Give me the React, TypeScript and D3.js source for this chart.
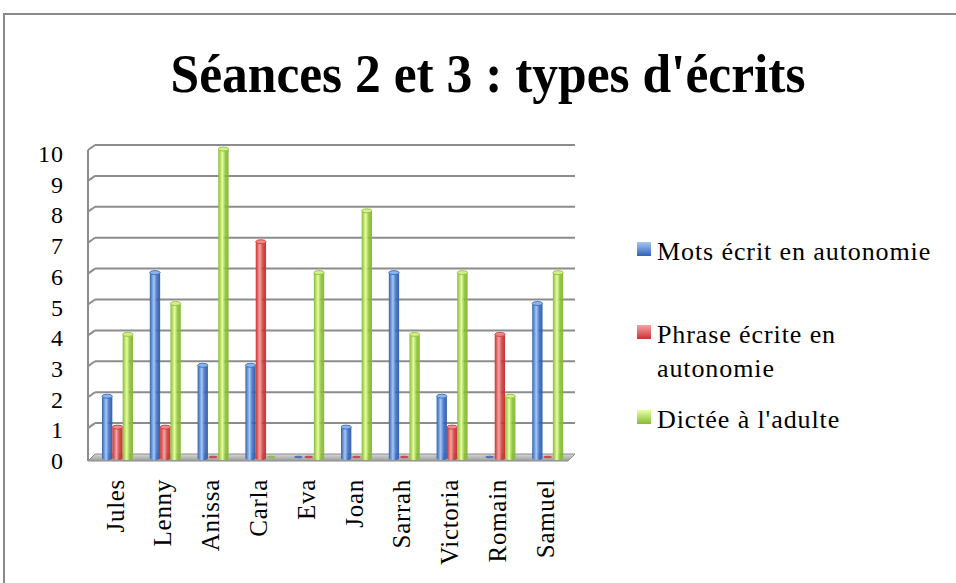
import React from 'react';
import * as d3 from 'd3';

const names = ['Jules', 'Lenny', 'Anissa', 'Carla', 'Eva', 'Joan', 'Sarrah', 'Victoria', 'Romain', 'Samuel'];
const seriesNames = ['Mots écrit en autonomie', 'Phrase écrite en autonomie', "Dictée à l'adulte"];
const motsEcrits = [2, 6, 3, 3, 0, 1, 6, 2, 0, 5];
const phraseEcrite = [1, 1, 0, 7, 0, 0, 0, 1, 4, 0];
const dicteeAdulte = [4, 5, 10, 0, 6, 8, 4, 6, 2, 6];
const yTicks = [0, 1, 2, 3, 4, 5, 6, 7, 8, 9, 10];

const colors = [
  { edge: '#2f63b8', mid: '#a6c8f6', cap: '#8cb6ee' },
  { edge: '#c83232', mid: '#f7a4a4', cap: '#f08a8a' },
  { edge: '#86bb34', mid: '#e8ff9e', cap: '#d4f088' },
];

const W = 956;
const H = 583;
const FONT = '"Liberation Serif", "DejaVu Serif", serif';

export default function App() {
  const values = [motsEcrits, phraseEcrite, dicteeAdulte];
  // back wall and front plane of the pseudo-3D box
  const xBack = d3.scaleBand<string>().domain(names).range([95, 573]);
  const xInner = d3.scaleBand<number>().domain([0, 1, 2]).range([7, 38]);
  const yBack = d3.scaleLinear().domain([0, 10]).range([454, 145]);
  const yBar = d3.scaleLinear().domain([0, 10]).range([458, 149]);
  const yLabel = d3.scaleLinear().domain([0, 10]).range([461, 154]);
  const dx = 7;
  const dy = 5;
  const x0 = 95;
  const x1 = 575;

  const legendY = [251, 334, 419];

  return (
    <svg width={W} height={H} style={{ position: 'absolute', left: 0, top: 0, background: '#fff' }}>
      <defs>
        {colors.map((c, i) => (
          <linearGradient key={i} id={`cyl${i}`} x1="0" x2="1" y1="0" y2="0">
            <stop offset="0" stopColor={c.edge} />
            <stop offset="0.4" stopColor={c.mid} />
            <stop offset="0.7" stopColor={c.edge} stopOpacity={0.85} />
            <stop offset="1" stopColor={c.edge} />
          </linearGradient>
        ))}
        {colors.map((c, i) => (
          <linearGradient key={`l${i}`} id={`leg${i}`} x1="0" x2="0" y1="0" y2="1">
            <stop offset="0" stopColor={c.mid} />
            <stop offset="1" stopColor={c.edge} />
          </linearGradient>
        ))}
        <linearGradient id="floor" x1="0" x2="0" y1="0" y2="1">
          <stop offset="0" stopColor="#d8d8d8" />
          <stop offset="1" stopColor="#9a9a9a" />
        </linearGradient>
      </defs>

      {/* outer frame */}
      <rect x={4} y={14} width={W + 10} height={H + 10} fill="#fff" stroke="#8a8a8a" strokeWidth={2} />

      <text
        x={488}
        y={92}
        textAnchor="middle"
        fontFamily={FONT}
        fontWeight="bold"
        fontSize={55}
        textLength={635}
        lengthAdjust="spacingAndGlyphs"
        fill="#000"
      >
        Séances 2 et 3 : types d'écrits
      </text>

      {/* floor */}
      <path
        d={`M${x0},${yBack(0)} L${x1},${yBack(0)} L${x1 - dx},${yBack(0) + dy + 2} L${x0 - dx},${yBack(0) + dy + 2} Z`}
        fill="url(#floor)"
        stroke="#8c8c8c"
        strokeWidth={1}
      />

      {/* gridlines on back wall with side stubs */}
      {yTicks.filter(t => t > 0).map(t => (
        <g key={t}>
          <line x1={x0} x2={x1} y1={yBack(t)} y2={yBack(t)} stroke="#8c8c8c" strokeWidth={2} />
          <line x1={x0 - dx} x2={x0} y1={yBack(t) + dy} y2={yBack(t)} stroke="#8c8c8c" strokeWidth={2} />
        </g>
      ))}
      <line x1={x0 - dx} x2={x0 - dx} y1={yBack(10) + dy} y2={yBack(0) + dy + 2} stroke="#8c8c8c" strokeWidth={2} />

      {/* bars */}
      {names.map((n, gi) => (
        <g key={n}>
          {values.map((vals, si) => {
            const v = vals[gi];
            const x = (xBack(n) as number) + xInner(si)!;
            const w = xInner.bandwidth();
            const yb = yBar(0);
            if (v === 0) {
              return <ellipse key={si} cx={x + w / 2} cy={yb - 1} rx={w / 2 - 1} ry={1.2} fill={colors[si].edge} opacity={0.8} />;
            }
            const yt = yBar(v);
            return (
              <g key={si}>
                <path
                  d={`M${x},${yt} L${x},${yb} A${w / 2},2 0 0 0 ${x + w},${yb} L${x + w},${yt} Z`}
                  fill={`url(#cyl${si})`}
                />
                <ellipse cx={x + w / 2} cy={yt} rx={w / 2} ry={2} fill={colors[si].cap} stroke={colors[si].edge} strokeWidth={0.8} />
              </g>
            );
          })}
        </g>
      ))}

      {/* y-axis labels */}
      {yTicks.map(t => (
        <text key={t} x={64} y={yLabel(t)} textAnchor="end" dominantBaseline="central" fontFamily={FONT} fontSize={24} letterSpacing={1} fill="#000">
          {t}
        </text>
      ))}

      {/* x-axis labels */}
      {names.map(n => {
        const cx = (xBack(n) as number) + 20;
        return (
          <text
            key={n}
            transform={`translate(${cx},479) rotate(-90)`}
            textAnchor="end"
            dominantBaseline="central"
            fontFamily={FONT}
            fontSize={25}
            letterSpacing={0.7}
            fill="#000"
          >
            {n}
          </text>
        );
      })}

      {/* legend */}
      {seriesNames.map((s, i) => (
        <g key={s} transform={`translate(637,${legendY[i]})`}>
          <rect x={0} y={-9} width={14} height={14} fill={`url(#leg${i})`} />
          {i === 1 ? (
            <text x={20} y={0} dominantBaseline="central" fontFamily={FONT} fontSize={26} letterSpacing={0.9} fill="#000">
              <tspan x={20} dy={0}>Phrase écrite en</tspan>
              <tspan x={20} dy={34}>autonomie</tspan>
            </text>
          ) : (
            <text x={20} y={0} dominantBaseline="central" fontFamily={FONT} fontSize={26} letterSpacing={0.9} fill="#000">
              {s}
            </text>
          )}
        </g>
      ))}
    </svg>
  );
}
